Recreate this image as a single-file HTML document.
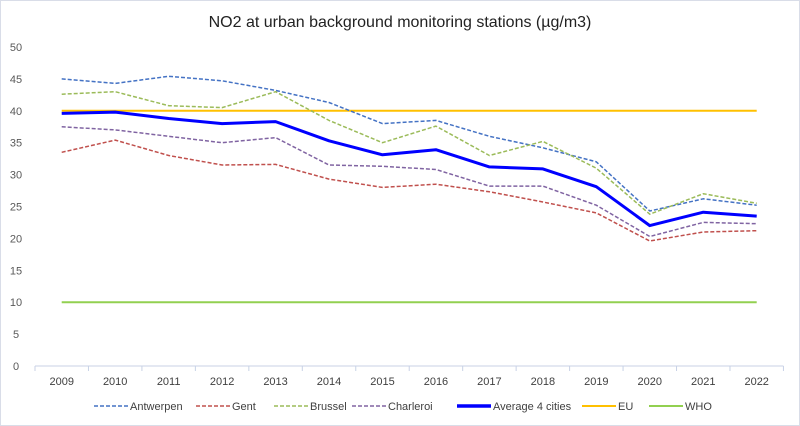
<!DOCTYPE html>
<html><head><meta charset="utf-8"><style>
html,body{margin:0;padding:0;background:#fff}
svg{display:block;font-family:"Liberation Sans Narrow","Liberation Sans",sans-serif}
</style></head><body>
<svg id="c" width="800" height="426" viewBox="0 0 800 426" xmlns="http://www.w3.org/2000/svg">
<rect x="0.5" y="0.5" width="799" height="425" fill="#fff" stroke="#d9dde8"/>
<text x="400" y="27" font-size="16" text-anchor="middle" fill="#222">NO2 at urban background monitoring stations (µg/m3)</text>
<g id="g"></g>
</svg>
<script>
var g=document.getElementById('g'),ns='http://www.w3.org/2000/svg';
function el(t,a,txt){var e=document.createElementNS(ns,t);for(var k in a)e.setAttribute(k,a[k]);if(txt)e.textContent=txt;g.appendChild(e);return e;}
function Y(v){return 366-v*6.38;}
var x0=35,w=53.46;function X(i){return x0+w*(i+0.5);}
for(var v=0;v<=50;v+=5)el('text',{x:16,y:Y(v)+4,'font-size':11,'text-anchor':'middle',fill:'#595959'},String(v));
el('line',{x1:x0,y1:366,x2:x0+14*w,y2:366,stroke:'#c8d2e6','stroke-width':1});
for(var i=0;i<=14;i++)el('line',{x1:x0+i*w,y1:366,x2:x0+i*w,y2:371,stroke:'#c8d2e6'});
for(var i=0;i<14;i++)el('text',{x:X(i),y:385,'font-size':11,'text-anchor':'middle',fill:'#404040'},String(2009+i));
function line(d,c,sw,dash){var p=d.map(function(v,i){return X(i).toFixed(1)+','+Y(v).toFixed(1)}).join(' ');var a={points:p,fill:'none',stroke:c,'stroke-width':sw,'stroke-linejoin':'round'};if(dash)a['stroke-dasharray']=dash;el('polyline',a);}
function flat(v){var a=[];for(var i=0;i<14;i++)a.push(v);return a;}
line(flat(40),'#ffc000',2);
line(flat(10),'#92d050',2);
line([45,44.3,45.4,44.7,43.2,41.3,38,38.5,36,34.2,32,24.3,26.2,25.2],'#4472c4',1.5,'4,2');
line([33.5,35.4,33,31.5,31.6,29.3,28,28.5,27.3,25.7,24,19.6,21,21.2],'#c0504d',1.5,'4,2');
line([42.6,43,40.8,40.5,43,38.5,35,37.6,33,35.2,31,23.8,27,25.5],'#9bbb59',1.5,'4,2');
line([37.5,37,36,35,35.8,31.5,31.3,30.8,28.2,28.2,25.2,20.3,22.5,22.3],'#8064a2',1.5,'4,2');
line([39.6,39.8,38.8,38,38.3,35.3,33.1,33.9,31.2,30.9,28.1,22,24.1,23.5],'#0000ff',3);
var L=[[94,'Antwerpen','#4472c4',1.5,'4,2'],[196,'Gent','#c0504d',1.5,'4,2'],[274,'Brussel','#9bbb59',1.5,'4,2'],[352,'Charleroi','#8064a2',1.5,'4,2'],[457,'Average 4 cities','#0000ff',3.5,null],[582,'EU','#ffc000',2,null],[649,'WHO','#92d050',2,null]];
L.forEach(function(l){var a={x1:l[0],y1:406,x2:l[0]+34,y2:406,stroke:l[2],'stroke-width':l[3]};if(l[4])a['stroke-dasharray']=l[4];el('line',a);el('text',{x:l[0]+36,y:410,'font-size':11,fill:'#404040'},l[1]);});
</script>
</body></html>
